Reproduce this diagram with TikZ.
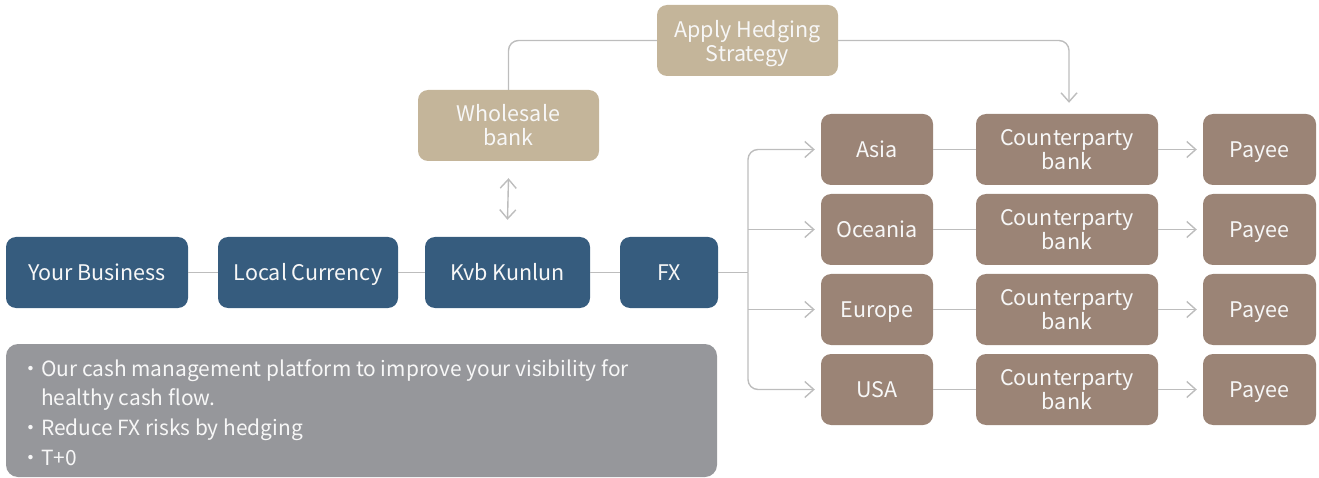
\documentclass[tikz,border=0pt]{standalone}
\usepackage{fontspec}
\setmainfont{Noto Sans CJK SC}
\usetikzlibrary{arrows.meta}
\definecolor{navy}{HTML}{365C7E}
\definecolor{tan}{HTML}{C4B59A}
\definecolor{mud}{HTML}{9B8476}
\definecolor{slate}{HTML}{96979B}
\definecolor{wire}{HTML}{BDBDBD}
\definecolor{ink}{HTML}{F7F7F7}
\newcommand\bul{\makebox[16pt][l]{\hspace{-5pt}·}}
\tikzset{
  box/.style={rounded corners=10pt, inner sep=0pt, text=ink, align=center,
    font=\fontsize{21.5}{24}\selectfont, minimum height=71pt},
  oneline/.style={text height=16pt, text depth=0pt},
  bluebox/.style={box, oneline, fill=navy},
  tanbox/.style={box, fill=tan, minimum width=181pt},
  brownbox/.style={box, fill=mud},
  wireline/.style={draw=wire, line width=1.4pt},
  arr/.style={wireline, -{Straight Barb[length=9pt,width=16pt]}},
  arrboth/.style={wireline, {Straight Barb[length=9pt,width=16pt]}-{Straight Barb[length=9pt,width=16pt]}},
}
\begin{document}
\begin{tikzpicture}[x=1pt,y=-1pt]
\useasboundingbox (0,0) rectangle (1319,478);
% bottom row
\node[bluebox, minimum width=182pt] (biz) at (97,272.5) {Your Business};
\node[bluebox, minimum width=180pt] (loc) at (308,272.5) {Local Currency};
\node[bluebox, minimum width=165pt] (kvb) at (507.5,272.5) {Kvb Kunlun};
\node[bluebox, minimum width=98pt] (fx) at (669,272.5) {FX};
% tan boxes
\node[tanbox] (whole) at (508.5,125.5) {Wholesale\\bank};
\node[tanbox] (hedge) at (747.5,40.5) {\rule{0pt}{18pt}Apply Hedging\\\smash{Strategy}};
% regions
\foreach \n/\t/\y in {r1/Asia/149.5, r2/Oceania/229.5, r3/Europe/309.5, r4/USA/389.5}{
  \node[brownbox, oneline, minimum width=112pt] (\n) at (877,\y) {\t};
}
\foreach \n/\y in {c1/149.5, c2/229.5, c3/309.5, c4/389.5}{
  \node[brownbox, minimum width=182pt] (\n) at (1067,\y) {Counterparty\\bank};
}
\foreach \n/\y in {p1/149.5, p2/229.5, p3/309.5, p4/389.5}{
  \node[brownbox, oneline, minimum width=113pt] (\n) at (1259.5,\y) {Payee};
}
% gray info box
\node[fill=slate, rounded corners=12pt, minimum width=711pt, minimum height=133pt, inner sep=0pt] (info) at (361.5,410.5) {};
\node[anchor=base west, align=left, text=ink, inner sep=0pt,
  font=\fontsize{20.9}{29.6}\selectfont] (infotext) at (25,465)
  {\bul Our cash management platform to improve your visibility for\\
   \hspace*{16pt}healthy cash flow.\\
   \bul Reduce FX risks by hedging\\
   \bul T+0};
% connectors
\draw[wireline] (biz) -- (loc);
\draw[wireline] (loc) -- (kvb);
\draw[wireline] (kvb) -- (fx);
\coordinate (split) at (748,272.5);
\draw[wireline] (fx.east) -- (split);
\draw[arr, rounded corners=10pt] (split) |- ([xshift=-6pt]r1.west);
\draw[arr, rounded corners=10pt] (split) |- ([xshift=-6pt]r4.west);
\draw[arr] (split |- r2.west) -- ([xshift=-6pt]r2.west);
\draw[arr] (split |- r3.west) -- ([xshift=-6pt]r3.west);
\foreach \i in {1,2,3,4}{
  \draw[wireline] (r\i) -- (c\i);
  \draw[arr] (c\i.east) -- ([xshift=-6pt]p\i.west);
}
\draw[arrboth] ([yshift=-17pt]whole.south) -- ([yshift=17pt]kvb.north);
\draw[wireline, rounded corners=10pt] (whole.north) |- (hedge.west);
\draw[arr, rounded corners=10pt] (hedge.east) -| ([xshift=2pt,yshift=11pt]c1.north);
\end{tikzpicture}
\end{document}
